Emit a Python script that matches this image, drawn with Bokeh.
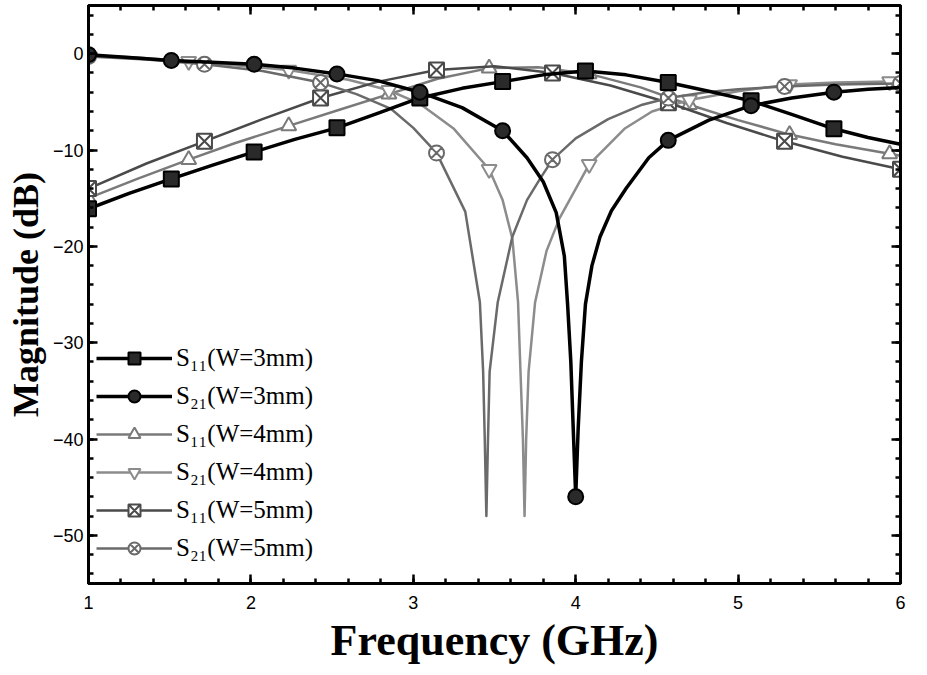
from bokeh.plotting import figure
from bokeh.models import Legend, LegendItem, LinearAxis, Range1d, FixedTicker, CustomJSTickFormatter
from bokeh.embed import file_html
from bokeh.resources import INLINE

# ---- measured responses (frequency in GHz, magnitude in dB) ----
S11_W3_F = [1.00, 1.25, 1.51, 1.76, 2.02, 2.27, 2.53, 2.78, 3.04, 3.30, 3.55,
            3.80, 4.06, 4.31, 4.57, 4.82, 5.08, 5.33, 5.59, 5.80, 6.00]
S11_W3_DB = [-16.1, -14.5, -13.0, -11.6, -10.2, -8.9, -7.7, -6.2, -4.6, -3.6, -2.9,
             -2.2, -1.8, -2.2, -3.0, -3.9, -4.9, -6.3, -7.8, -8.7, -9.4]
S11_W3_MK = [1.00, 1.51, 2.02, 2.53, 3.04, 3.55, 4.06, 4.57, 5.08, 5.59]

S21_W3_F = [1.00, 1.25, 1.51, 1.76, 2.02, 2.27, 2.53, 2.78, 3.04, 3.30, 3.55, 3.70,
            3.80, 3.88, 3.93, 3.95, 3.97, 3.985, 4.00, 4.015, 4.035, 4.06, 4.10,
            4.15, 4.22, 4.31, 4.45, 4.57, 4.82, 5.08, 5.33, 5.59, 5.80, 6.00]
S21_W3_DB = [-0.1, -0.4, -0.7, -0.9, -1.1, -1.5, -2.1, -2.8, -4.0, -5.6, -8.0, -10.8,
             -13.3, -16.5, -21.0, -26.0, -32.0, -39.0, -46.0, -39.0, -32.0, -26.0, -22.0,
             -19.0, -16.3, -14.0, -10.8, -9.0, -6.9, -5.4, -4.6, -4.0, -3.7, -3.5]
S21_W3_MK = [1.00, 1.51, 2.02, 2.53, 3.04, 3.55, 4.00, 4.57, 5.08, 5.59]

S11_W4_F = [1.000, 1.300, 1.617, 1.900, 2.233, 2.550, 2.850, 3.150, 3.467, 3.770,
            4.083, 4.400, 4.700, 5.000, 5.317, 5.600, 5.933, 6.000]
S11_W4_DB = [-15.0, -13.0, -11.0, -9.3, -7.5, -5.8, -4.2, -2.6, -1.5, -1.4,
             -2.1, -3.5, -5.3, -6.9, -8.4, -9.4, -10.4, -10.6]
S11_W4_MK = [1.000, 1.617, 2.233, 2.850, 3.467, 4.083, 4.700, 5.317, 5.933]

S21_W4_F = [1.000, 1.300, 1.617, 1.900, 2.233, 2.600, 2.850, 3.040, 3.250, 3.467,
            3.550, 3.610, 3.645, 3.660, 3.675, 3.685, 3.695, 3.710, 3.750, 3.820,
            3.900, 4.083, 4.300, 4.470, 4.700, 5.000, 5.317, 5.600, 5.933, 6.000]
S21_W4_DB = [-0.2, -0.4, -0.8, -1.2, -1.7, -2.7, -3.8, -5.2, -7.8, -12.0,
             -15.2, -19.2, -25.8, -33.0, -40.0, -48.0, -40.0, -33.0, -25.8, -20.5,
             -17.1, -11.5, -7.8, -6.0, -4.8, -3.9, -3.2, -3.0, -2.9, -2.9]
S21_W4_MK = [1.000, 1.617, 2.233, 2.850, 3.467, 4.083, 4.700, 5.317, 5.933]

S11_W5_F = [1.000, 1.357, 1.714, 2.071, 2.429, 2.786, 3.143, 3.500, 3.857, 4.214,
            4.571, 4.929, 5.286, 5.643, 6.000]
S11_W5_DB = [-14.0, -11.4, -9.1, -6.8, -4.6, -2.9, -1.7, -1.3, -2.0, -3.3,
             -5.1, -7.2, -9.1, -10.7, -12.0]
S11_W5_MK = [1.000, 1.714, 2.429, 3.143, 3.857, 4.571, 5.286, 6.000]

S21_W5_F = [1.000, 1.357, 1.714, 2.071, 2.429, 2.650, 2.860, 3.000, 3.143, 3.320,
            3.410, 3.430, 3.440, 3.450, 3.460, 3.470, 3.520, 3.610, 3.700, 3.780,
            3.857, 4.000, 4.200, 4.410, 4.571, 4.800, 5.000, 5.286, 5.600, 6.000]
S21_W5_DB = [-0.3, -0.6, -1.1, -1.8, -3.0, -4.2, -5.7, -7.7, -10.3, -16.4,
             -25.8, -33.0, -40.0, -48.0, -40.0, -33.0, -25.8, -19.0, -15.2, -13.0,
             -11.0, -8.8, -6.8, -5.3, -4.6, -4.0, -3.7, -3.4, -3.2, -3.1]
S21_W5_MK = [1.000, 1.714, 2.429, 3.143, 3.857, 4.571, 5.286, 6.000]

X_TICKS = [1, 2, 3, 4, 5, 6]
X_MINOR = [1 + 0.2 * k for k in range(26)]
Y_TICKS = [0, -10, -20, -30, -40, -50]
Y_MINOR = [-54 + 2 * k for k in range(30)]

SERIES = [
    # label, freqs, values, marker freqs, line colour, line width, marker, fill
    ("S\u2081\u2081(W=3mm)", S11_W3_F, S11_W3_DB, S11_W3_MK, "#000000", 3.5, "square", "#2a2a2a"),
    ("S\u2082\u2081(W=3mm)", S21_W3_F, S21_W3_DB, S21_W3_MK, "#000000", 3.5, "circle", "#2a2a2a"),
    ("S\u2081\u2081(W=4mm)", S11_W4_F, S11_W4_DB, S11_W4_MK, "#7a7a7a", 2.5, "triangle", "#ffffff"),
    ("S\u2082\u2081(W=4mm)", S21_W4_F, S21_W4_DB, S21_W4_MK, "#8c8c8c", 2.5, "inverted_triangle", "#ffffff"),
    ("S\u2081\u2081(W=5mm)", S11_W5_F, S11_W5_DB, S11_W5_MK, "#4a4a4a", 2.5, "square_x", "#ffffff"),
    ("S\u2082\u2081(W=5mm)", S21_W5_F, S21_W5_DB, S21_W5_MK, "#6a6a6a", 2.5, "circle_x", "#ffffff"),
]


def marker_points(freqs, vals, marks):
    xs, ys = [], []
    for f, v in zip(freqs, vals):
        if any(abs(f - m) < 1e-9 for m in marks):
            xs.append(f)
            ys.append(v)
    return xs, ys


p = figure(
    width=920, height=670,
    frame_width=812, frame_height=578,
    x_range=Range1d(1, 6), y_range=Range1d(-55, 5),
    output_backend="svg", toolbar_location=None,
    min_border_left=88, min_border_right=20, min_border_top=5, min_border_bottom=87,
)
p.background_fill_color = "white"
p.border_fill_color = "white"
p.grid.visible = False
p.outline_line_color = "black"
p.outline_line_width = 3

draw_order = [2, 3, 4, 5, 0, 1]
renderers = {}
for i in draw_order:
    label, fx, fy, mk, col, lw, marker, fill = SERIES[i]
    ln = p.line(fx, fy, line_color=col, line_width=lw, line_join="round")
    mx, my = marker_points(fx, fy, mk)
    sc = p.scatter(mx, my, marker=marker, size=15, line_color=col,
                   line_width=2, fill_color=fill)
    renderers[i] = [ln, sc]
items = [LegendItem(label=SERIES[i][0], renderers=renderers[i]) for i in range(len(SERIES))]

legend = Legend(items=items, location=(8, 20))
legend.label_text_font = "Liberation Serif"
legend.label_text_font_size = "25px"
legend.label_text_color = "black"
legend.glyph_width = 76
legend.glyph_height = 30
legend.label_height = 30
legend.spacing = 8
legend.padding = 0
legend.margin = 0
legend.label_standoff = 4
legend.background_fill_alpha = 0
legend.border_line_alpha = 0
p.add_layout(legend, "center")


def style_ticks(ax):
    ax.axis_line_width = 3
    ax.major_tick_in = 9
    ax.major_tick_out = 0
    ax.minor_tick_in = 5
    ax.minor_tick_out = 0
    ax.major_tick_line_width = 2.5
    ax.minor_tick_line_width = 2.5


# main axes
for ax in (p.xaxis[0], p.yaxis[0]):
    style_ticks(ax)
    ax.major_label_text_font = "Liberation Sans"
    ax.major_label_text_font_size = "18px"
    ax.major_label_text_color = "black"
    ax.axis_label_text_font = "Liberation Serif"
    ax.axis_label_text_font_style = "bold"
    ax.axis_label_text_color = "black"

p.xaxis[0].ticker = FixedTicker(ticks=X_TICKS, minor_ticks=X_MINOR)
p.yaxis[0].ticker = FixedTicker(ticks=Y_TICKS, minor_ticks=Y_MINOR)
p.xaxis[0].axis_label = "Frequency (GHz)"
p.xaxis[0].axis_label_text_font_size = "44px"
p.xaxis[0].axis_label_standoff = 4
p.xaxis[0].major_label_standoff = 12
p.yaxis[0].axis_label = "Magnitude (dB)"
p.yaxis[0].axis_label_text_font_size = "36px"
p.yaxis[0].axis_label_standoff = 4
p.yaxis[0].major_label_standoff = 5

# mirrored tick marks on the top and right edges, without labels
top = LinearAxis(ticker=FixedTicker(ticks=X_TICKS, minor_ticks=X_MINOR),
                 formatter=CustomJSTickFormatter(code="return ''"))
right = LinearAxis(ticker=FixedTicker(ticks=Y_TICKS, minor_ticks=Y_MINOR),
                   formatter=CustomJSTickFormatter(code="return ''"))
for ax in (top, right):
    style_ticks(ax)
    ax.major_label_standoff = 0
p.add_layout(top, "above")
p.add_layout(right, "right")

open("out.html", "w").write(file_html(p, INLINE))
